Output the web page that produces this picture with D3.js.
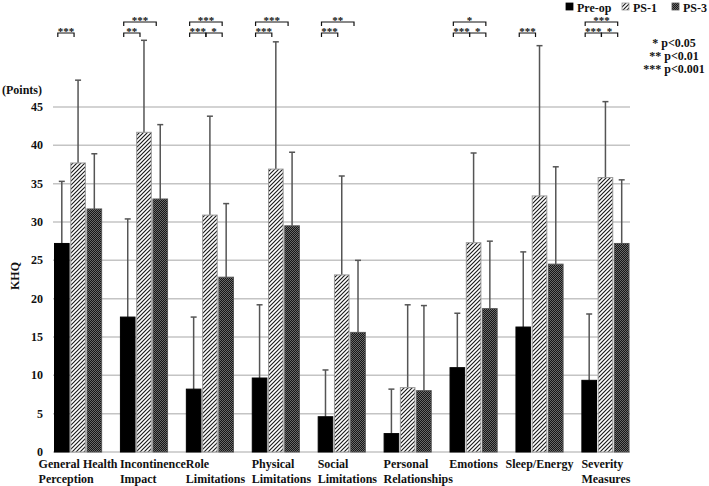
<!DOCTYPE html>
<html>
<head>
<meta charset="utf-8">
<script src="https://cdn.jsdelivr.net/npm/d3@7/dist/d3.min.js"></script>
<style>
  body { margin: 0; background: #fff; }
  svg text { font-family: "Liberation Serif", "Times New Roman", serif; font-weight: bold; fill: #111; }
</style>
</head>
<body>
<div id="chart"></div>
<script>
const categories = ['General Health|Perception', 'Incontinence|Impact', 'Role|Limitations',
    'Physical|Limitations', 'Social|Limitations', 'Personal|Relationships', 'Emotions',
    'Sleep/Energy', 'Severity|Measures'];
const seriesNames = ['Pre-op', 'PS-1', 'PS-3'];
const preOp = [27.2, 17.6, 8.2, 9.65, 4.6, 2.4, 11.0, 16.3, 9.35];
const preOpSd = [8.1, 12.8, 9.4, 9.55, 6.1, 5.8, 7.1, 9.8, 8.65];
const ps1 = [37.7, 41.7, 30.9, 36.9, 23.1, 8.4, 27.3, 33.4, 35.8];
const ps1Sd = [10.8, 12.0, 12.9, 16.6, 12.9, 10.8, 11.7, 19.6, 9.9];
const ps3 = [31.7, 33.0, 22.8, 29.5, 15.6, 8.0, 18.7, 24.5, 27.2];
const ps3Sd = [7.2, 9.7, 9.6, 9.6, 9.4, 11.1, 8.8, 12.7, 8.3];
const yTicks = [0, 5, 10, 15, 20, 25, 30, 35, 40, 45];
// significance: [category index, from series, to series, level (0 lower, 1 upper), stars]
const signif = [
    [0, 0, 1, 0, '***'],
    [1, 0, 1, 0, '**'], [1, 0, 2, 1, '***'],
    [2, 0, 1, 0, '***'], [2, 1, 2, 0, '*'], [2, 0, 2, 1, '***'],
    [3, 0, 1, 0, '***'], [3, 0, 2, 1, '***'],
    [4, 0, 1, 0, '***'], [4, 0, 2, 1, '**'],
    [6, 0, 1, 0, '***'], [6, 1, 2, 0, '*'], [6, 0, 2, 1, '*'],
    [7, 0, 1, 0, '***'],
    [8, 0, 1, 0, '***'], [8, 1, 2, 0, '*'], [8, 0, 2, 1, '***']
];
const pLegend = ['* p<0.05', '** p<0.01', '*** p<0.001'];

const width = 709, height = 486;
const svg = d3.select('#chart').append('svg')
    .attr('width', width).attr('height', height);

// patterns
let defs = svg.append('defs');
defs.append('pattern')
    .attr('id', 'hatch')
    .attr('patternUnits', 'userSpaceOnUse')
    .attr('width', 4).attr('height', 4)
    .call(p => p.append('rect').attr('width', 4).attr('height', 4).attr('fill', '#fff'))
    .append('path')
    .attr('d', 'M-1,1 l2,-2 M0,4 l4,-4 M3,5 l2,-2')
    .attr('stroke', '#1a1a1a').attr('stroke-width', 1.15);

let checker = defs.append('pattern')
    .attr('id', 'checker')
    .attr('patternUnits', 'userSpaceOnUse')
    .attr('width', 2).attr('height', 2);
checker.append('rect').attr('width', 2).attr('height', 2).attr('fill', '#161616');
checker.append('rect').attr('width', 1).attr('height', 1).attr('fill', '#6a6a6a');
checker.append('rect').attr('x', 1).attr('y', 1).attr('width', 1).attr('height', 1).attr('fill', '#6a6a6a');

const fills = ['#000', 'url(#hatch)', 'url(#checker)'];
const strokes = ['#000', '#9a9a9a', '#555'];

const x0 = d3.scaleBand().domain(categories).range([54, 629.5]).paddingInner(0.27).paddingOuter(0);
const x1 = d3.scaleBand().domain(seriesNames).range([0, x0.bandwidth()]).paddingInner(0.04);
const y = d3.scaleLinear().domain([0, 45]).range([452, 107]);

// gridlines
svg.append('g')
    .selectAll('line')
    .data(yTicks)
    .enter().append('line')
    .attr('x1', 53).attr('x2', 630)
    .attr('y1', d => y(d)).attr('y2', d => y(d))
    .attr('stroke', '#c4c4c4').attr('stroke-width', 1.5);

// y tick labels
svg.append('g')
    .selectAll('text')
    .data(yTicks)
    .enter().append('text')
    .attr('x', 43).attr('y', d => y(d) + 4)
    .attr('text-anchor', 'end')
    .attr('font-size', 12)
    .text(d => d);

svg.append('text').attr('x', 2).attr('y', 94).attr('font-size', 12).text('(Points)');
svg.append('text')
    .attr('transform', 'translate(19,' + 276 + ') rotate(-90)')
    .attr('text-anchor', 'middle').attr('font-size', 12).text('KHQ');

// bars
const series = [
    { name: 'Pre-op', values: preOp, sd: preOpSd },
    { name: 'PS-1', values: ps1, sd: ps1Sd },
    { name: 'PS-3', values: ps3, sd: ps3Sd }
];
const barData = [];
series.forEach((s, si) => {
    s.values.forEach((v, ci) => {
        barData.push({ cat: categories[ci], series: s.name, si, value: v, sd: s.sd[ci] });
    });
});

// error bars (drawn behind bars)
let err = svg.append('g').selectAll('g').data(barData).enter().append('g')
    .attr('stroke', '#555').attr('stroke-width', 1.5);
err.append('line')
    .attr('x1', d => x0(d.cat) + x1(d.series) + x1.bandwidth() / 2)
    .attr('x2', d => x0(d.cat) + x1(d.series) + x1.bandwidth() / 2)
    .attr('y1', d => y(d.value))
    .attr('y2', d => y(d.value + d.sd));
err.append('line')
    .attr('x1', d => x0(d.cat) + x1(d.series) + x1.bandwidth() / 2 - 3)
    .attr('x2', d => x0(d.cat) + x1(d.series) + x1.bandwidth() / 2 + 3)
    .attr('y1', d => y(d.value + d.sd))
    .attr('y2', d => y(d.value + d.sd));

svg.append('g').selectAll('rect').data(barData).enter().append('rect')
    .attr('x', d => x0(d.cat) + x1(d.series) + 0.5)
    .attr('y', d => y(d.value))
    .attr('width', x1.bandwidth() - 1)
    .attr('height', d => y(0) - y(d.value))
    .attr('fill', d => fills[d.si])
    .attr('stroke', d => strokes[d.si])
    .attr('stroke-width', 1);

// x labels
let labels = svg.append('g').selectAll('text').data(categories).enter().append('text')
    .attr('font-size', 12);
labels.each(function(d) {
    let t = d3.select(this),
        lines = d.split('|');
    lines.forEach((line, i) => {
        t.append('tspan').attr('y', 468 + i * 15).text(line);
    });
    let w0 = t.select('tspan').node().getComputedTextLength();
    let start = x0(d);
    if (lines.length === 1 || w0 > x0.step() * 1.1) {
        let maxW = d3.max(t.selectAll('tspan').nodes(), n => n.getComputedTextLength());
        start = x0(d) + x0.bandwidth() / 2 - maxW / 2;
    }
    t.selectAll('tspan').attr('x', start);
});

// significance brackets
const levelY = [33, 22];
let sig = svg.append('g').selectAll('g').data(signif).enter().append('g');
const barCx = (ci, si) => x0(categories[ci]) + x1(seriesNames[si]) + x1.bandwidth() / 2 - 4;
sig.append('path')
    .attr('d', d => {
        let xa = barCx(d[0], d[1]), xb = barCx(d[0], d[2]), yy = levelY[d[3]];
        return 'M' + xa + ',' + (yy + 4) + 'V' + yy + 'H' + xb + 'V' + (yy + 4);
    })
    .attr('fill', 'none').attr('stroke', '#111').attr('stroke-width', 1.2);
sig.append('text')
    .attr('x', d => (barCx(d[0], d[1]) + barCx(d[0], d[2])) / 2)
    .attr('y', d => levelY[d[3]] + 2)
    .attr('text-anchor', 'middle')
    .attr('font-size', 11)
    .text(d => d[4]);

// p legend
svg.append('g').selectAll('text').data(pLegend).enter().append('text')
    .attr('x', 674).attr('y', (d, i) => 47 + i * 13)
    .attr('text-anchor', 'middle').attr('font-size', 12)
    .text(d => d);

// series legend
const legendX = [566, 622, 672];
let leg = svg.append('g').selectAll('g').data(seriesNames).enter().append('g')
    .attr('transform', (d, i) => 'translate(' + legendX[i] + ',3)');
leg.append('rect').attr('width', 7).attr('height', 7)
    .attr('fill', (d, i) => fills[i]).attr('stroke', (d, i) => strokes[i]).attr('stroke-width', 0.8);
leg.append('text').attr('x', 11).attr('y', 8.5).attr('font-size', 12).text(d => d);
</script>
</body>
</html>
